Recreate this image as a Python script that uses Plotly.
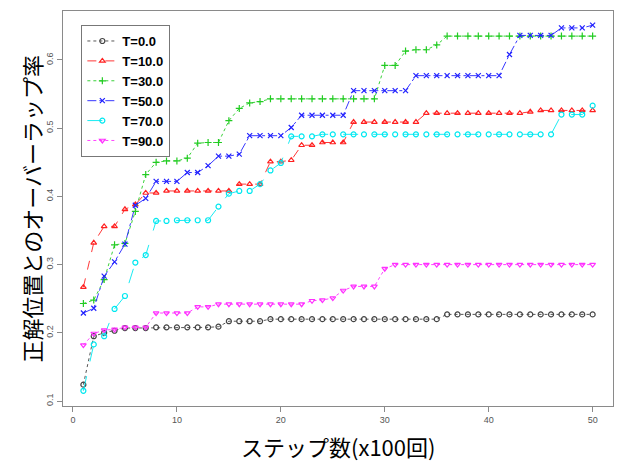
import plotly.graph_objects as go

# Step index (x100 steps)
steps = list(range(1, 51))

# Overlap ratio with the correct position, one list per temperature
t0 = [0.124, 0.195, 0.200, 0.203, 0.207, 0.207, 0.207, 0.208, 0.208, 0.208,
      0.208, 0.208, 0.208, 0.209, 0.217, 0.217, 0.217, 0.217] + [0.220] * 17 + [0.227] * 15
t10 = [0.267, 0.332, 0.356, 0.356, 0.381, 0.388, 0.405, 0.405] + [0.408] * 7 + \
      [0.418, 0.418, 0.418, 0.451, 0.451, 0.453, 0.475, 0.475, 0.479, 0.479, 0.479] + \
      [0.509] * 7 + [0.522] * 10 + [0.524] + [0.526] * 6
t30 = [0.243, 0.248, 0.278, 0.329, 0.331, 0.378, 0.432, 0.450, 0.452, 0.452,
       0.456, 0.478, 0.479, 0.479, 0.511, 0.529, 0.537, 0.539] + [0.543] * 11 + \
      [0.592, 0.592, 0.613, 0.615, 0.615, 0.622] + [0.635] * 15
t50 = [0.229, 0.236, 0.283, 0.304, 0.330, 0.387, 0.397, 0.422, 0.422, 0.422,
       0.435, 0.435, 0.445, 0.459, 0.459, 0.462] + [0.489] * 4 + [0.501] + [0.519] * 5 + \
      [0.555] * 6 + [0.577] * 9 + [0.608, 0.636, 0.636, 0.636, 0.636, 0.647, 0.647, 0.647, 0.651]
t70 = [0.115, 0.183, 0.195, 0.235, 0.254, 0.303, 0.314, 0.364, 0.364] + [0.365] * 4 + \
      [0.385, 0.404, 0.408, 0.408, 0.418, 0.438, 0.449] + [0.488] * 3 + [0.491] * 23 + \
      [0.520] * 3 + [0.533]
t90 = [0.182, 0.199, 0.204, 0.205] + [0.208] * 3 + [0.229] * 4 + [0.238, 0.238] + [0.242] * 9 + \
      [0.247, 0.248, 0.251, 0.262] + [0.268] * 3 + [0.294] + [0.300] * 20

series_names = ["T=0.0", "T=10.0", "T=30.0", "T=50.0", "T=70.0", "T=90.0"]
series_values = [t0, t10, t30, t50, t70, t90]
colors = ["#444444", "#ff2020", "#22cc22", "#2020ff", "#00e8f0", "#ff30ff"]
dashes = ["dot", "dash", "dot", "dashdot", "longdash", "dot"]
symbols = ["circle-open", "triangle-up-open", "cross-thin-open", "x-thin-open",
           "circle-open", "triangle-down-open"]

x_ticks = [0, 10, 20, 30, 40, 50]
y_ticks = [0.1, 0.2, 0.3, 0.4, 0.5, 0.6]

fig = go.Figure()
for name, vals, col, dash, sym in zip(series_names, series_values, colors, dashes, symbols):
    fig.add_trace(go.Scatter(
        x=steps, y=vals, name="<b>" + name + "</b>", mode="lines+markers",
        line=dict(color=col, width=0.9, dash=dash),
        marker=dict(symbol=sym, size=5, color=col, line=dict(color=col, width=1.2)),
    ))

axis_common = dict(
    showgrid=False, zeroline=False, showline=True, mirror=True,
    linecolor="#8a8a8a", linewidth=1.2, ticks="outside", ticklen=5,
    tickcolor="#8a8a8a", tickwidth=1,
    tickfont=dict(family="Liberation Sans, Arial", size=9, color="#555555"),
)

fig.update_layout(
    width=617, height=466,
    margin=dict(l=63, r=4, t=11, b=60),
    paper_bgcolor="white", plot_bgcolor="white",
    xaxis=dict(range=[-0.96, 51.96], tickvals=x_ticks, **axis_common),
    yaxis=dict(range=[0.0927, 0.6718], tickvals=y_ticks, ticktext=[str(v) for v in y_ticks],
               tickangle=-90, **axis_common),
    legend=dict(
        x=0.033, y=0.965, xanchor="left", yanchor="top",
        bgcolor="white", bordercolor="#777777", borderwidth=1.2,
        font=dict(family="Liberation Sans, Arial", size=13, color="black"),
        tracegroupgap=0, itemwidth=30,
    ),
    annotations=[
        dict(text="ステップ数(x100回)", xref="paper", yref="paper", x=0.5, y=-0.1,
             xanchor="center", yanchor="middle", showarrow=False,
             font=dict(family="Noto Sans CJK JP", size=22, color="black")),
        dict(text="正解位置とのオーバーラップ率", xref="paper", yref="paper", x=-0.06, y=0.5,
             xanchor="center", yanchor="middle", textangle=-90, showarrow=False,
             font=dict(family="Noto Sans CJK JP", size=22, color="black")),
    ],
)

fig.write_html("out.html")
